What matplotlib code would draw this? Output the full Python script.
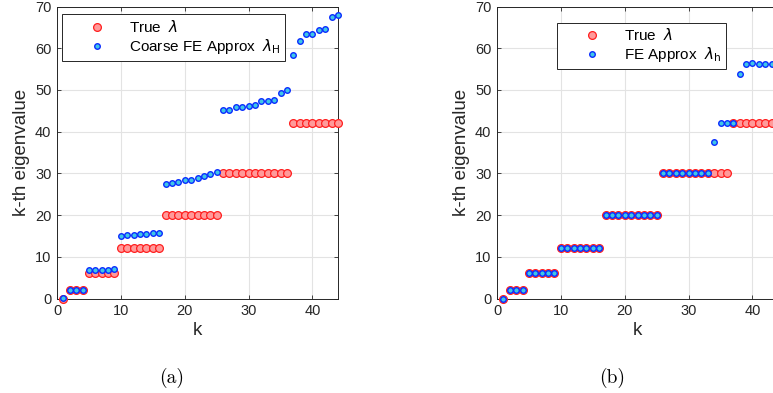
import matplotlib
matplotlib.use("Agg")
import matplotlib.pyplot as plt
import numpy as np

plt.rcParams["font.family"] = ["Liberation Sans Narrow", "Liberation Sans", "DejaVu Sans"]

# eigenvalue index
k_vals = list(range(1, 45))

# exact eigenvalues l(l+1) with multiplicity 2l+1
true_lambda = ([0] + [2] * 3 + [6] * 5 + [12] * 7 + [20] * 9 + [30] * 11 + [42] * 8)

# coarse FE approximation (panel a)
coarse_lambda = [
    0.1,
    2.1, 2.1, 2.1,
    6.9, 6.9, 6.9, 6.9, 7.0,
    15.1, 15.2, 15.2, 15.4, 15.4, 15.7, 15.8,
    27.4, 27.8, 28.0, 28.3, 28.4, 28.9, 29.4, 29.8, 30.4,
    45.3, 45.3, 45.8, 45.8, 46.2, 46.5, 47.4, 47.4, 47.5, 49.3, 50.1,
    58.4, 61.7, 63.3, 63.3, 64.4, 64.6, 67.6, 67.9,
]

# fine FE approximation (panel b)
fine_lambda = [
    0.0,
    2.0, 2.0, 2.0,
    6.0, 6.0, 6.0, 6.0, 6.0,
    12.0, 12.0, 12.0, 12.0, 12.0, 12.0, 12.0,
    20.0, 20.0, 20.0, 20.0, 20.0, 20.0, 20.0, 20.0, 20.0,
    30.2, 30.2, 30.2, 30.2, 30.2, 30.2, 30.1, 30.1,
    37.4, 42.1, 42.1, 42.1,
    53.7, 56.1, 56.4, 56.1, 56.1, 56.1, 56.1,
]

RED_FACE = "#ff9a9a"
RED_EDGE = "#ff1f1f"
BLUE_FACE = "#3fc6e6"
BLUE_EDGE = "#0a2cff"

W, H = 773, 393
fig = plt.figure(figsize=(W / 100, H / 100), dpi=100)

ax_a = fig.add_axes([57 / W, 1 - 298.5 / H, 281 / W, 292 / H])
ax_b = fig.add_axes([497 / W, 1 - 298.5 / H, 281 / W, 292 / H])


def panel(ax, approx, label_approx):
    ax.plot(k_vals, true_lambda, "o", ms=5.6, mfc=RED_FACE, mec=RED_EDGE, mew=0.9,
            ls="none", label=r"True  $\lambda$", zorder=3, clip_on=False)
    ax.plot(k_vals[:len(approx)], approx, "o", ms=4.0, mfc=BLUE_FACE, mec=BLUE_EDGE,
            mew=1.0, ls="none", label=label_approx, zorder=4, clip_on=False)
    ax.set_xlim(0, 44)
    ax.set_ylim(0, 70)
    ax.set_xticks([0, 10, 20, 30, 40])
    ax.set_yticks(range(0, 71, 10))
    ax.grid(True, color="#e3e3e3", lw=0.8)
    ax.set_axisbelow(True)
    ax.tick_params(direction="in", length=3, width=0.6, labelsize=10.5,
                   colors="#262626", top=True, right=True, pad=4)
    for s in ax.spines.values():
        s.set_color("#262626")
        s.set_linewidth(0.7)
    ax.set_xlabel("k", fontsize=13.5, color="#262626", labelpad=3)
    ax.set_ylabel("k-th eigenvalue", fontsize=13.5, color="#262626", labelpad=4)


panel(ax_a, coarse_lambda, r"Coarse FE Approx  $\lambda_\mathrm{H}$")
panel(ax_b, fine_lambda, r"FE Approx  $\lambda_\mathrm{h}$")

leg_kw = dict(fontsize=11, frameon=True, fancybox=False, edgecolor="#262626",
              framealpha=1, handletextpad=0.1, borderpad=0.3, labelspacing=0.15,
              handlelength=4.0, borderaxespad=0)
la = ax_a.legend(loc="upper left", bbox_to_anchor=(0.017, 0.973), **leg_kw)
lb = ax_b.legend(loc="upper left", bbox_to_anchor=(0.213, 0.945), **leg_kw)
for lg in (la, lb):
    lg.get_frame().set_linewidth(0.7)
    lg.set_zorder(10)

fig.text(172 / W, 1 - 378 / H, "(a)", family="cmr10", fontsize=14, ha="center", va="center")
fig.text(612 / W, 1 - 378 / H, "(b)", family="cmr10", fontsize=14, ha="center", va="center")

fig.savefig("out.png", dpi=100)
